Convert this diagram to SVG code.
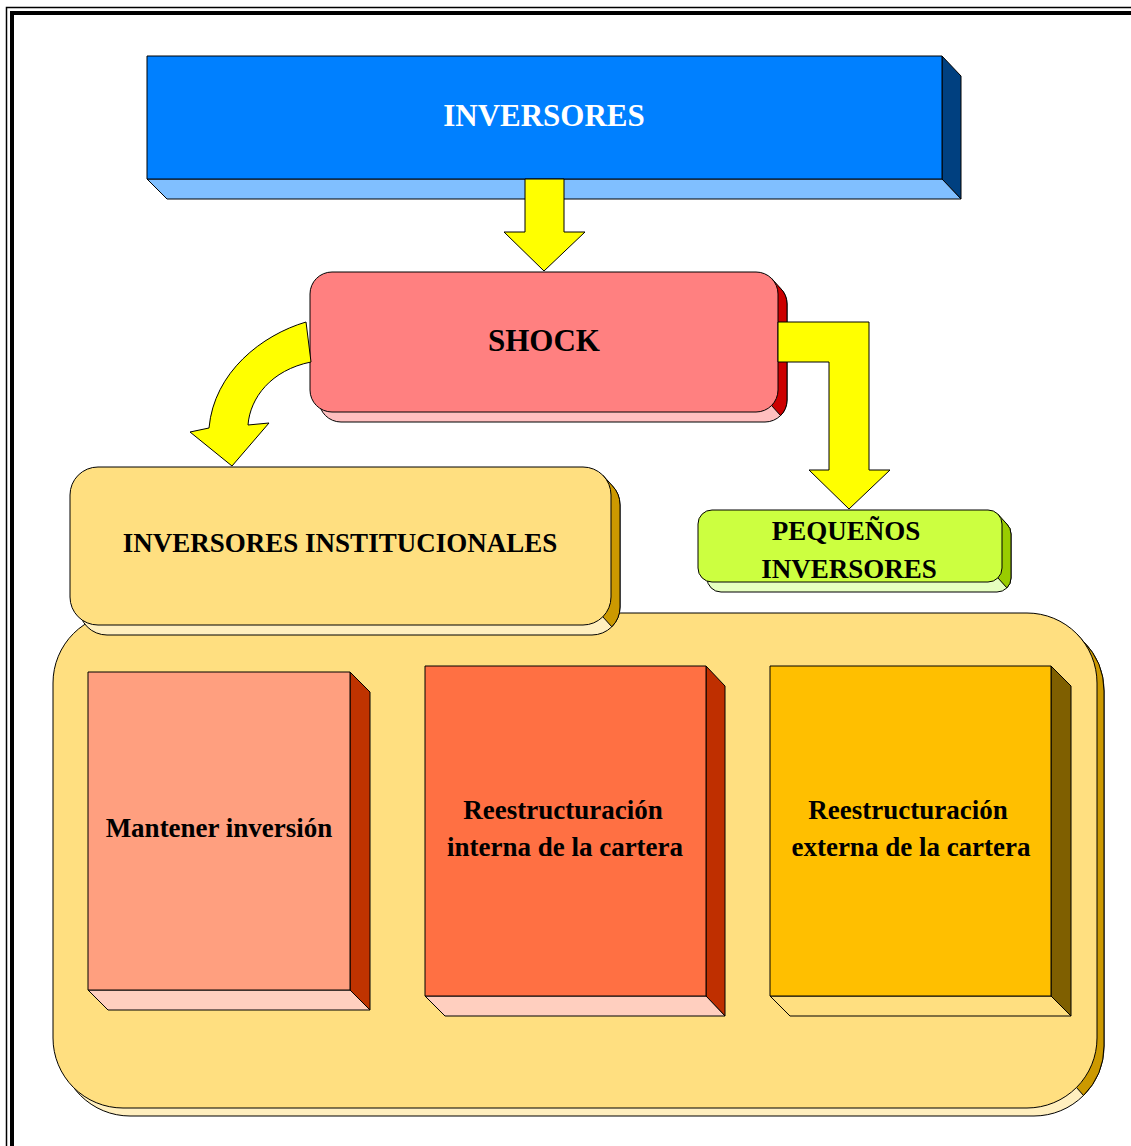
<svg xmlns="http://www.w3.org/2000/svg" width="1131" height="1146" viewBox="0 0 1131 1146">
<style>
  .ln { stroke: #000; stroke-width: 1; stroke-linejoin: round; }
  .t { font-family: "Liberation Serif", "Times New Roman", serif; font-weight: bold; text-anchor: middle; fill: #000; }
  .arrow { fill: #FFFF00; stroke: #000; stroke-width: 1; stroke-linejoin: miter; }
</style>
<rect width="1131" height="1146" fill="#fff"/>
<!-- frame -->
<path d="M6.5 1146 V7.5 H1131" fill="none" stroke="#000" stroke-width="1.5"/>
<path d="M12 1146 V13 H1131" fill="none" stroke="#000" stroke-width="4"/>

<!-- container -->
<g id="grupo-institucionales">
  <rect x="60" y="621" width="1044" height="495" rx="70" fill="#FFEFBF" class="ln"/>
  <path d="M1076.5 633.5 L1083.5 641.5 A70 70 0 0 1 1104 691 L1104 1046 A70 70 0 0 1 1083.5 1095.5 L1076.5 1087.5 Z" fill="#CC9900" class="ln"/>
  <rect x="53" y="613" width="1044" height="495" rx="70" fill="#FFDF80" class="ln"/>
</g>

<!-- INVERSORES -->
<g id="inversores">
  <polygon points="942,56 961,76 961,199 942,179" fill="#004080" class="ln"/>
  <polygon points="147,179 942,179 961,199 167,199" fill="#80BFFF" class="ln"/>
  <rect x="147" y="56" width="795" height="123" fill="#0080FF" class="ln"/>
  <text x="544" y="126" class="t" font-size="31" fill="#fff" style="fill:#fff">INVERSORES</text>
</g>

<!-- SHOCK -->
<g id="shock">
  <rect x="319" y="282" width="468" height="140" rx="22" fill="#FFBFBF" class="ln"/>
  <path d="M771.6 278.4 L780.6 288.4 A22 22 0 0 1 787 304 L787 400 A22 22 0 0 1 780.6 415.6 L771.6 405.6 Z" fill="#CC0000" class="ln"/>
  <rect x="310" y="272" width="468" height="140" rx="22" fill="#FF8080" class="ln"/>
  <text x="544" y="351" class="t" font-size="31">SHOCK</text>
</g>

<!-- INVERSORES INSTITUCIONALES -->
<g id="institucionales">
  <rect x="79" y="477" width="541" height="158" rx="28" fill="#FFEFBF" class="ln"/>
  <path d="M602.8 475.2 L611.8 485.2 A28 28 0 0 1 620 505 L620 607 A28 28 0 0 1 611.8 626.8 L602.8 616.8 Z" fill="#CC9900" class="ln"/>
  <rect x="70" y="467" width="541" height="158" rx="28" fill="#FFDF80" class="ln"/>
  <text x="340" y="552" class="t" font-size="27">INVERSORES INSTITUCIONALES</text>
</g>

<!-- PEQUEÑOS INVERSORES -->
<g id="pequenos">
  <rect x="707" y="520" width="304" height="72" rx="14" fill="#E6FFBF" class="ln"/>
  <path d="M997.9 514.1 L1006.9 524.1 A14 14 0 0 1 1011 534 L1011 578 A14 14 0 0 1 1006.9 587.9 L997.9 577.9 Z" fill="#99CC00" class="ln"/>
  <rect x="698" y="510" width="304" height="72" rx="14" fill="#CCFF40" class="ln"/>
  <text x="846" y="540" class="t" font-size="27">PEQUEÑOS</text>
  <text x="849" y="578" class="t" font-size="27">INVERSORES</text>
</g>

<!-- Mantener inversión -->
<g id="mantener">
  <polygon points="350,672 370,692 370,1010 350,990" fill="#BF3300" class="ln"/>
  <polygon points="88,990 350,990 370,1010 108,1010" fill="#FFCFBF" class="ln"/>
  <rect x="88" y="672" width="262" height="318" fill="#FF9F7F" class="ln"/>
  <text x="219" y="837" class="t" font-size="27">Mantener inversión</text>
</g>

<!-- Reestructuración interna -->
<g id="interna">
  <polygon points="706,666 725,686 725,1016 706,996" fill="#BF2F00" class="ln"/>
  <polygon points="425,996 706,996 725,1016 445,1016" fill="#FFCFBF" class="ln"/>
  <rect x="425" y="666" width="281" height="330" fill="#FF7043" class="ln"/>
  <text x="563" y="819" class="t" font-size="27">Reestructuración</text>
  <text x="565" y="856" class="t" font-size="27">interna de la cartera</text>
</g>

<!-- Reestructuración externa -->
<g id="externa">
  <polygon points="1051,666 1071,686 1071,1016 1051,996" fill="#7F5F00" class="ln"/>
  <polygon points="770,996 1051,996 1071,1016 790,1016" fill="#FFDF80" class="ln"/>
  <rect x="770" y="666" width="281" height="330" fill="#FFBF00" class="ln"/>
  <text x="908" y="819" class="t" font-size="27">Reestructuración</text>
  <text x="911" y="856" class="t" font-size="27">externa de la cartera</text>
</g>

<!-- connectors -->
<g id="connectors">
  <path class="arrow" d="M525 179 L564 179 L564 232 L585 232 L544 271 L504 232 L525 232 Z"/>
  <path class="arrow" d="M778 322 L869 322 L869 470 L890 470 L849 509 L809 470 L829 470 L829 362 L778 362 Z"/>
  <path class="arrow" d="M306 322 C262 335 214 372 209 428 L190 432 L232 466 L269 423 L248 425 C250 398 271 370 311 362 Z"/>
</g>
</svg>
